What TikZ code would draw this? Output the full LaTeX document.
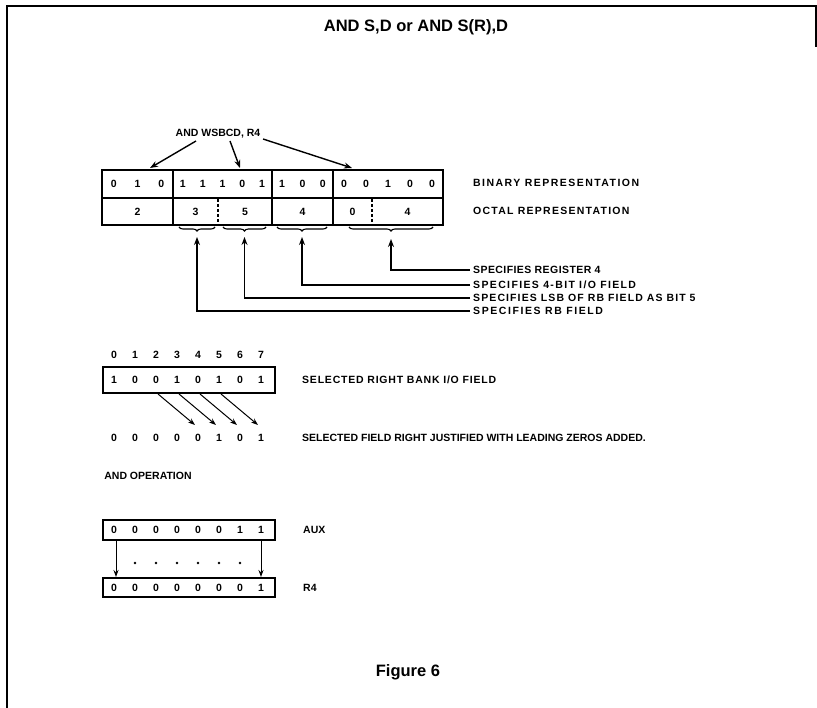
\documentclass[tikz,border=0pt]{standalone}
\usepackage{fontspec}
\setmainfont{Liberation Sans}
\usetikzlibrary{arrows.meta,decorations.pathreplacing,calc}
\newcommand{\lsp}[2]{{\addfontfeature{LetterSpace=#1}#2}}
\begin{document}
\begin{tikzpicture}[x=1pt,y=-1pt,
  lbl/.style={font=\fontsize{10.5}{12}\selectfont\bfseries, inner sep=0pt, anchor=west},
  dig/.style={font=\fontsize{10.5}{12}\selectfont\bfseries, inner sep=0pt},
  ttl/.style={font=\fontsize{16.5}{19}\selectfont\bfseries, inner sep=0pt},
  regbox/.style={line width=2.4pt},
  sep/.style={line width=2.4pt},
  dsep/.style={line width=2pt, dash pattern=on 3pt off 2pt},
  brc/.style={decorate, decoration={brace, mirror, amplitude=4pt}, line width=1.1pt},
  lead/.style={line width=1.6pt},
  arr/.style={line width=1.4pt, -{Stealth[length=8pt,width=6pt]}},
  frm/.style={line width=1.5pt},
]
\useasboundingbox (0,0) rectangle (817,708);
% frame
\draw[frm] (7,708) -- (7,6) -- (816,6) -- (816,47);
% title
\node[ttl] (title) at (416,27) {AND S,D or AND S(R),D};
\node[ttl] (fig) at (408,672) {Figure 6};

% ---------- top register ----------
\draw[regbox] (102,170) rectangle (443,225);
\draw[sep] (102,198) -- (443,198);
\foreach \x in {173,272,333} \draw[sep] (\x,170) -- (\x,225);
\foreach \x in {218,372} \draw[dsep] (\x,199) -- (\x,224);
% binary digits
\foreach \d [count=\i from 0] in {0,1,0} \node[dig] (ba\i) at ({102+23.67*(\i+0.5)},184) {\d};
\foreach \d [count=\i from 0] in {1,1,1,0,1} \node[dig] (bb\i) at ({173+19.8*(\i+0.5)},184) {\d};
\foreach \d [count=\i from 0] in {1,0,0} \node[dig] (bc\i) at ({272+20.33*(\i+0.5)},184) {\d};
\foreach \d [count=\i from 0] in {0,0,1,0,0} \node[dig] (bd\i) at ({333+22*(\i+0.5)},184) {\d};
% octal digits
\node[dig] (o1) at (137.5,211.5) {2};
\node[dig] (o2) at (195.5,211.5) {3};
\node[dig] (o3) at (245,211.5) {5};
\node[dig] (o4) at (302.5,211.5) {4};
\node[dig] (o5) at (352.5,211.5) {0};
\node[dig] (o6) at (407.5,211.5) {4};
\node[lbl] (binl) at (473,183) {\lsp{14}{BINARY REPRESENTATION}};
\node[lbl] (octl) at (473,211) {\lsp{12}{OCTAL REPRESENTATION}};

% instruction label and arrows
\node[dig] (instr) at (218,134) {AND WSBCD, R4};
\coordinate (t1) at (150,168);
\coordinate (t2) at (240,168);
\coordinate (t3) at (352,168);
\coordinate (w1) at (196,141);
\coordinate (w2) at (230,141);
\coordinate (w3) at (263,139);
\draw[arr] (w1) -- (t1);
\draw[arr] (w2) -- (t2);
\draw[arr] (w3) -- (t3);

% braces
\draw[brc] (179,227) -- (215,227);
\draw[brc] (223,227) -- (266,227);
\draw[brc] (277,227) -- (327,227);
\draw[brc] (349,227) -- (433,227);
\coordinate (k1) at (197,237);
\coordinate (k2) at (244.5,237);
\coordinate (k3) at (302,237);
\coordinate (k4) at (391,239);

\node[lbl] (s1) at (473,270) {\lsp{4}{SPECIFIES REGISTER 4}};
\node[lbl] (s2) at (473,285) {\lsp{13}{SPECIFIES 4-BIT I/O FIELD}};
\node[lbl] (s3) at (473,298) {\lsp{10.5}{SPECIFIES LSB OF RB FIELD AS BIT 5}};
\node[lbl] (s4) at (473,311) {\lsp{15}{SPECIFIES RB FIELD}};
\draw[lead,-{Stealth[length=8pt,width=6pt]}] ([xshift=-3pt]s1.west) -| (k4);
\draw[lead,-{Stealth[length=8pt,width=6pt]}] ([xshift=-3pt]s2.west) -| (k3);
\draw[lead,-{Stealth[length=8pt,width=6pt]}] ([xshift=-3pt]s3.west) -| (k2);
\draw[lead,-{Stealth[length=8pt,width=6pt]}] ([xshift=-3pt]s4.west) -| (k1);

% ---------- selected field ----------
\foreach \d [count=\i from 0] in {0,...,7} \node[dig] (h\i) at ({114+21*\i},355) {\d};
\draw[regbox] (103,367) rectangle (275,393);
\foreach \d [count=\i from 0] in {1,0,0,1,0,1,0,1} \node[dig] (r\i) at ({114+21*\i},380) {\d};
\foreach \d [count=\i from 0] in {0,0,0,0,0,1,0,1} \node[dig] (j\i) at ({114+21*\i},438) {\d};
\foreach \i in {2,3,4,5} {
  \pgfmathtruncatemacro{\k}{\i+2}
  \coordinate (ds\i) at ({114+21*\i+2},394);
  \coordinate (de\i) at ({114+21*\k-3},425);
  \draw[line width=1pt,-{Stealth[length=7pt,width=5pt]}] (ds\i) -- (de\i);
}
\node[lbl] (sel1) at (302,380) {\lsp{7.5}{SELECTED RIGHT BANK I/O FIELD}};
\node[lbl] (sel2) at (302,438) {SELECTED FIELD RIGHT JUSTIFIED WITH LEADING ZEROS ADDED.};

% ---------- AND operation ----------
\node[dig] (andop) at (148,476) {AND OPERATION};
\draw[regbox] (103,520) rectangle (275,540);
\foreach \d [count=\i from 0] in {0,0,0,0,0,0,1,1} \node[dig] (a\i) at ({114+21*\i},530) {\d};
\draw[regbox] (103,578) rectangle (275,597);
\foreach \d [count=\i from 0] in {0,0,0,0,0,0,0,1} \node[dig] (q\i) at ({114+21*\i},587.5) {\d};
\foreach \i in {1,...,6} \fill ({114+21*\i},563) circle (1.3pt);
\coordinate (au0) at (116,541);
\coordinate (rq0) at (116,577);
\coordinate (au7) at (261,541);
\coordinate (rq7) at (261,577);
\draw[line width=1pt,-{Stealth[length=7pt,width=5pt]}] (au0) -- (rq0);
\draw[line width=1pt,-{Stealth[length=7pt,width=5pt]}] (au7) -- (rq7);
\node[lbl] (auxl) at (303,530) {AUX};
\node[lbl] (r4l) at (303,587.5) {R4};
\end{tikzpicture}
\end{document}
